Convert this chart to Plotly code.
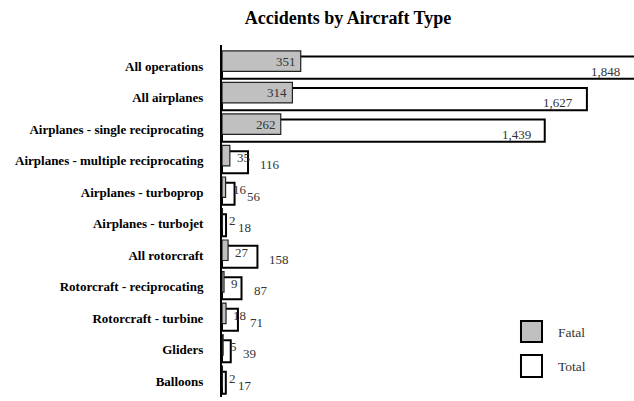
import plotly.graph_objects as go

categories = ["All operations", "All airplanes", "Airplanes - single reciprocating",
              "Airplanes - multiple reciprocating", "Airplanes - turboprop",
              "Airplanes - turbojet", "All rotorcraft", "Rotorcraft - reciprocating",
              "Rotorcraft - turbine", "Gliders", "Balloons"]
fatal = [351, 314, 262, 35, 16, 2, 27, 9, 18, 5, 2]
total = [1848, 1627, 1439, 116, 56, 18, 158, 87, 71, 39, 17]

XMAX = 1837
FONT = "Liberation Serif"
idx = list(range(len(categories)))

fig = go.Figure()
fig.add_trace(go.Bar(
    x=total, y=idx, orientation="h", name="Total",
    marker=dict(color="white", line=dict(color="black", width=2)),
    width=0.70, offset=-0.30, showlegend=False, hoverinfo="x+y"))
fig.add_trace(go.Bar(
    x=fatal, y=idx, orientation="h", name="Fatal",
    marker=dict(color="#c0c0c0", line=dict(color="#222", width=1.2)),
    width=0.65, offset=-0.48, showlegend=False, hoverinfo="x+y"))

ann = []
for i, (f, t) in enumerate(zip(fatal, total)):
    if f >= 200:
        ann.append(dict(x=f, y=i, xanchor="right", xshift=-3, yshift=5, text=f"{f:,}"))
    else:
        ann.append(dict(x=f, y=i, xanchor="left", xshift=5, yshift=3, text=f"{f:,}"))
    if t >= 200:
        ann.append(dict(x=min(t, XMAX), y=i, xanchor="right", xshift=-12, yshift=-5, text=f"{t:,}"))
    else:
        ann.append(dict(x=t, y=i, xanchor="left", xshift=10, yshift=-4, text=f"{t:,}"))
for a in ann:
    a.update(xref="x", yref="y", showarrow=False, yanchor="middle",
             font=dict(family=FONT, size=13, color="#333"))

# custom legend
shapes = [
    dict(type="rect", xref="paper", yref="paper", x0=0.7257, x1=0.7767, y0=0.156, y1=0.216,
         fillcolor="#c0c0c0", line=dict(color="black", width=2)),
    dict(type="rect", xref="paper", yref="paper", x0=0.7257, x1=0.7767, y0=0.0568, y1=0.119,
         fillcolor="white", line=dict(color="black", width=2)),
]
for txt, yy in [("Fatal", 0.182), ("Total", 0.088)]:
    ann.append(dict(x=0.811, y=yy, xref="paper", yref="paper", xanchor="left", yanchor="middle",
                    showarrow=False, text=txt, font=dict(family=FONT, size=13.5, color="#333")))

fig.update_layout(
    width=634, height=401,
    margin=dict(l=222, r=0, t=45, b=4),
    paper_bgcolor="white", plot_bgcolor="white",
    barmode="overlay",
    title=dict(text="<b>Accidents by Aircraft Type</b>", x=0.549, xanchor="center",
               y=0.955, yanchor="middle", font=dict(family=FONT, size=18, color="black")),
    xaxis=dict(range=[0, XMAX], visible=False, fixedrange=True),
    yaxis=dict(range=[10.5, -0.667], tickmode="array", tickvals=idx,
               ticktext=[f"<b>{c}</b>" for c in categories],
               showline=True, linecolor="black", linewidth=2, showgrid=False,
               zeroline=False, ticks="", ticklabelstandoff=14,
               tickfont=dict(family=FONT, size=13, color="black")),
    annotations=ann, shapes=shapes, showlegend=False,
)
fig.write_html("out.html")
